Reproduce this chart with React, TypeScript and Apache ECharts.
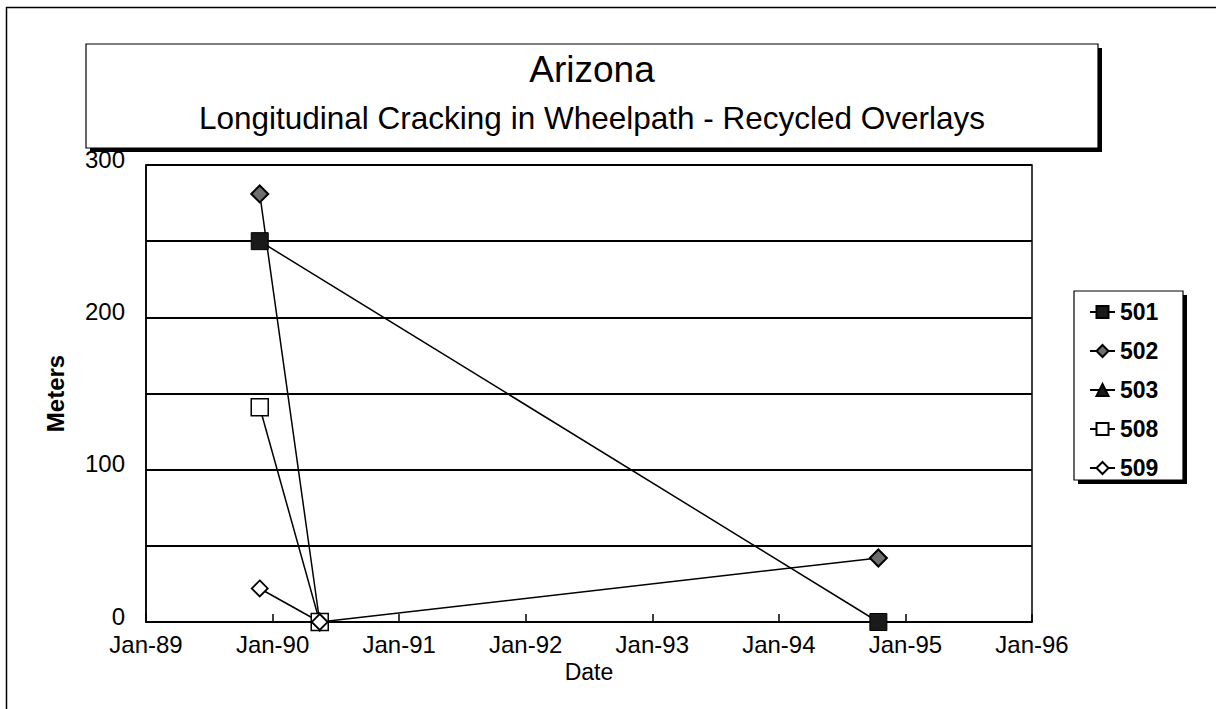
import React, { useEffect, useRef } from "react";
import * as echarts from "echarts";

// ---- data ----
const xTickLabels = ["Jan-89", "Jan-90", "Jan-91", "Jan-92", "Jan-93", "Jan-94", "Jan-95", "Jan-96"];
const yTickLabels = ["0", "", "100", "", "200", "", "300"];

const s501Dates = ["1989-11-25", "1994-10-15"];
const s501Values = [250, 0];
const s502Dates = ["1989-11-25", "1990-05-17", "1994-10-15"];
const s502Values = [281, 0, 42];
const s503Dates = ["1990-05-17"];
const s503Values = [0];
const s508Dates = ["1989-11-25", "1990-05-17"];
const s508Values = [141, 0];
const s509Dates = ["1989-11-25", "1990-05-17"];
const s509Values = [22, 0];

const seriesNames = ["501", "502", "503", "508", "509"];

function toYear(iso: string): number {
  const d = Date.parse(iso + "T00:00:00Z");
  const y = new Date(d).getUTCFullYear();
  const start = Date.UTC(y, 0, 1);
  const end = Date.UTC(y + 1, 0, 1);
  return y + (d - start) / (end - start);
}

function pairs(dates: string[], values: number[]) {
  return dates.map((d, i) => [toYear(d), values[i]]);
}

const FONT = "'Liberation Sans', Arial, sans-serif";

export default function App() {
  const ref = useRef<HTMLDivElement>(null);

  useEffect(() => {
    document.body.style.margin = "0";
    if (!ref.current) return;
    const chart = echarts.init(ref.current, undefined, { renderer: "svg" });

    const lineStyle = { color: "#000", width: 1.5 };
    const mk = (name: string, data: number[][], symbol: string, size: number, fill: string, bw: number) => ({
      name,
      type: "line",
      data,
      symbol,
      symbolSize: size,
      showAllSymbol: true,
      lineStyle,
      itemStyle: { color: fill, borderColor: "#000", borderWidth: bw },
      emphasis: { disabled: true },
    });

    const option: any = {
      animation: false,
      backgroundColor: "#fff",
      textStyle: { fontFamily: FONT },
      grid: {
        left: 146,
        right: 1216 - 1032,
        top: 165,
        bottom: 709 - 622,
        show: true,
        borderColor: "#000",
        borderWidth: 1.5,
        containLabel: false,
      },
      xAxis: {
        type: "value",
        min: 1989,
        max: 1996,
        interval: 1,
        name: "Date",
        nameLocation: "middle",
        nameGap: 32,
        nameTextStyle: { color: "#000", fontSize: 23, fontFamily: FONT },
        axisLine: { show: true, lineStyle: { color: "#000", width: 1.5 } },
        axisTick: { show: true, inside: true, length: 8, lineStyle: { color: "#000", width: 1.5 } },
        axisLabel: {
          color: "#000",
          fontSize: 24,
          fontFamily: FONT,
          margin: 10,
          formatter: (v: number) => xTickLabels[Math.round(v - 1989)] ?? "",
        },
        splitLine: { show: false },
      },
      yAxis: {
        type: "value",
        min: 0,
        max: 300,
        interval: 50,
        name: "Meters",
        nameLocation: "middle",
        nameGap: 79,
        nameRotate: 90,
        nameTextStyle: { color: "#000", fontSize: 24, fontWeight: "bold", fontFamily: FONT },
        axisLine: { show: true, lineStyle: { color: "#000", width: 1.5 } },
        axisTick: { show: false },
        axisLabel: {
          color: "#000",
          fontSize: 24,
          fontFamily: FONT,
          margin: 21,
          verticalAlign: "bottom",
          padding: [0, 0, -6, 0],
          formatter: (v: number) => yTickLabels[Math.round(v / 50)] ?? "",
        },
        splitLine: { show: true, lineStyle: { color: "#000", width: 2 } },
      },
      legend: {
        orient: "vertical",
        left: 1089,
        top: 300,
        padding: 0,
        itemGap: 15,
        itemWidth: 25,
        itemHeight: 15,
        data: seriesNames,
        textStyle: { color: "#000", fontSize: 23, fontWeight: "bold", fontFamily: FONT, lineHeight: 24 },
        selectedMode: false,
      },
      graphic: [
        { type: "line", z: 1, shape: { x1: 6, y1: 7.5, x2: 1216, y2: 7.5 }, style: { stroke: "#000", lineWidth: 1.5 } },
        { type: "line", z: 1, shape: { x1: 6.5, y1: 7, x2: 6.5, y2: 709 }, style: { stroke: "#000", lineWidth: 1.5 } },
        // title box with shadow
        { type: "rect", z: 1, shape: { x: 90, y: 48, width: 1012, height: 104 }, style: { fill: "#000" } },
        { type: "rect", z: 1, shape: { x: 86, y: 44, width: 1012, height: 104 }, style: { fill: "#fff", stroke: "#000", lineWidth: 1.2 } },
        {
          type: "text", z: 2, x: 592, y: 69,
          style: { text: "Arizona", fill: "#000", fontSize: 37, fontFamily: FONT, textAlign: "center", textVerticalAlign: "middle" },
        },
        {
          type: "text", z: 2, x: 592, y: 118,
          style: { text: "Longitudinal Cracking in Wheelpath - Recycled Overlays", fill: "#000", fontSize: 31.5, fontFamily: FONT, textAlign: "center", textVerticalAlign: "middle" },
        },
        // legend box with shadow
        { type: "rect", z: 1, shape: { x: 1078, y: 295, width: 109, height: 189 }, style: { fill: "#000" } },
        { type: "rect", z: 1, shape: { x: 1074, y: 291, width: 109, height: 189 }, style: { fill: "#fff", stroke: "#000", lineWidth: 1.2 } },
      ],
      series: [
        mk("501", pairs(s501Dates, s501Values), "rect", 17, "#1a1a1a", 1),
        mk("502", pairs(s502Dates, s502Values), "diamond", 17, "#6e6e6e", 2),
        mk("503", pairs(s503Dates, s503Values), "triangle", 16, "#1a1a1a", 1),
        mk("508", pairs(s508Dates, s508Values), "rect", 17, "#fff", 1.5),
        mk("509", pairs(s509Dates, s509Values), "diamond", 16, "#fff", 1.8),
      ],
    };
    chart.setOption(option);
    return () => chart.dispose();
  }, []);

  return <div ref={ref} style={{ width: 1216, height: 709 }} />;
}
